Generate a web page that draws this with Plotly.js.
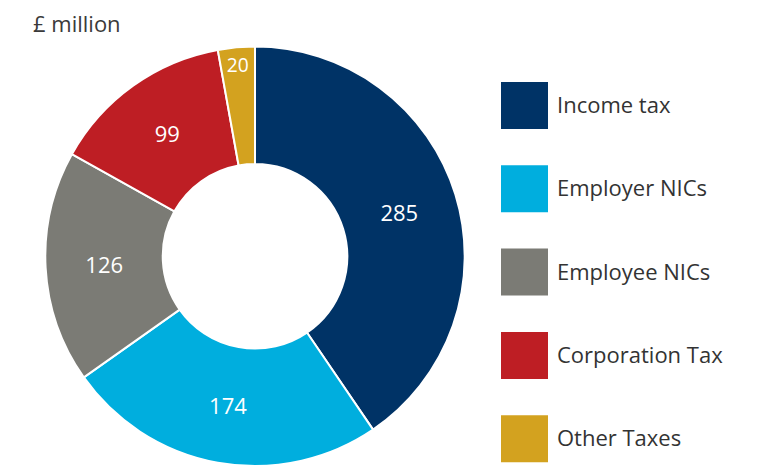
<!DOCTYPE html>
<html><head><meta charset="utf-8">
<script src="https://cdn.plot.ly/plotly-3.0.1.min.js"></script>
<style>html,body{margin:0;padding:0;background:#fff}#chart{width:772px;height:466px}</style>
</head><body><div id="chart"></div>
<script>
const labels = ["Income tax", "Employer NICs", "Employee NICs", "Corporation Tax", "Other Taxes"];
const values = [285, 174, 126, 99, 20];
const colors = ["#003366", "#00AEDE", "#7B7B75", "#BE1E24", "#D3A21F"];
const unitLabel = "£ million";

const FONT = "Open Sans, Lato, sans-serif";
const shapes = [], annotations = [];
annotations.push({xref:"paper", yref:"paper", x:31/772, y:1-6/466, xanchor:"left", yanchor:"top",
  text: unitLabel, showarrow:false, font:{family:FONT, size:22, color:"#3a3a3a"}});
labels.forEach((lab, i) => {
  const top = 82 + i*83.3, bot = top + 47;
  shapes.push({type:"rect", xref:"paper", yref:"paper", x0:501/772, x1:548/772,
    y0:1-bot/466, y1:1-top/466, fillcolor:colors[i], line:{width:0}});
  annotations.push({xref:"paper", yref:"paper", x:555/772, y:1-(top+22)/466, xanchor:"left", yanchor:"middle",
    text: lab, showarrow:false, font:{family:FONT, size:22, color:"#333"}});
});

Plotly.newPlot("chart", [{
  type:"pie", labels:labels, values:values, sort:false, direction:"clockwise", rotation:0,
  hole:0.44, marker:{colors:colors, line:{color:"#fff", width:2}},
  textinfo:"value", textposition:"inside", insidetextorientation:"horizontal",
  textfont:{family:FONT, size:22, color:"#fff"},
  domain:{x:[45.3/772, 464.7/772], y:[0, 0.9]}, showlegend:false
}], {
  width:772, height:466, margin:{l:0,r:0,t:0,b:0}, paper_bgcolor:"#fff",
  shapes:shapes, annotations:annotations, showlegend:false
}, {displayModeBar:false, staticPlot:true});
</script></body></html>
